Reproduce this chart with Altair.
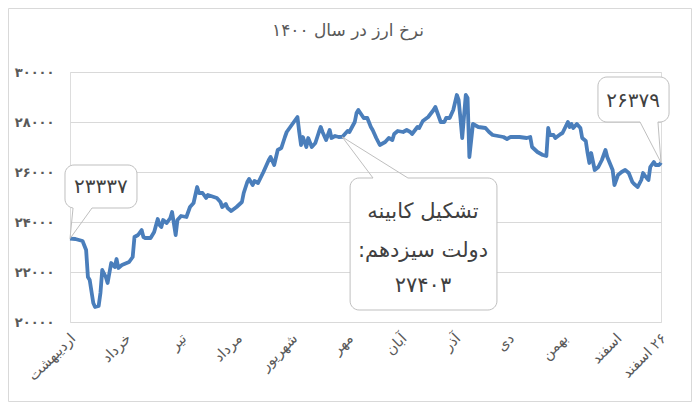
import altair as alt
import pandas as pd

# ---- data: day offset from 1 Ordibehesht 1400, exchange rate (toman) ----
days = [0, 3, 7, 9, 10, 11, 13, 14, 16, 17, 18, 20, 21, 23, 25, 26, 27, 29, 33, 35,
        36, 38, 40, 41, 42, 45, 47, 49, 50, 51, 52, 54, 56, 57, 59, 60, 62, 65, 67, 69,
        71, 72, 74, 76, 77, 82, 84, 85, 87, 88, 90, 93, 96, 97, 99, 100, 102, 103, 105, 108,
        111, 112, 114, 116, 118, 120, 121, 123, 125, 127, 128, 129, 130, 132, 133, 135, 137, 139, 140, 141,
        143, 145, 146, 148, 150, 152, 155, 156, 159, 160, 161, 164, 166, 168, 169, 171, 173, 175, 176, 178,
        180, 181, 183, 186, 188, 190, 191, 194, 195, 197, 200, 203, 204, 205, 207, 209, 210, 212, 214, 216,
        217, 218, 219, 221, 222, 223, 225, 228, 232, 234, 236, 239, 242, 244, 246, 251, 255, 257, 258, 261,
        264, 266, 267, 268, 270, 271, 274, 275, 278, 279, 280, 281, 283, 285, 286, 288, 289, 290, 291, 293,
        295, 297, 299, 300, 303, 304, 306, 308, 310, 312, 314, 315, 317, 319, 320, 322, 323, 324, 326, 327,
        329, 330]
rates = [23337, 23320, 23240, 22880, 21800, 21680, 20760, 20600, 20640, 21160, 22080, 21800, 21560, 22360, 22200, 22520, 22160, 22280, 22400, 22600,
         23400, 23480, 23680, 23400, 23360, 23360, 23600, 24120, 23880, 23800, 24080, 23960, 24160, 24400, 23480, 24080, 24240, 24200, 24600, 24760,
         25400, 25160, 25160, 24960, 25080, 24960, 24800, 24600, 24720, 24560, 24440, 24600, 24800, 25160, 25600, 25720, 25480, 25640, 25560, 26000,
         26480, 26600, 26280, 26880, 26960, 27400, 27600, 27800, 28000, 28200, 27600, 27080, 27400, 27000, 27360, 27000, 27160, 27600, 27800, 27600,
         27280, 27680, 27360, 27440, 27400, 27403, 27640, 27600, 28000, 28360, 28480, 28160, 28160, 27800, 27680, 27360, 27080, 27160, 27200, 27360,
         27280, 27520, 27640, 27600, 27680, 27600, 27520, 27800, 27760, 28040, 28200, 28480, 28600, 28400, 28000, 28000, 28160, 28160, 28480, 29080,
         28880, 28160, 27360, 29080, 28960, 26600, 27920, 27800, 27760, 27600, 27480, 27440, 27400, 27320, 27400, 27400, 27360, 27400, 27000, 26800,
         26680, 26640, 27760, 27480, 27480, 27360, 27520, 27560, 28000, 27800, 27920, 27760, 27920, 27760, 27360, 27240, 26760, 26360, 26760, 26080,
         26200, 26480, 26880, 26600, 26080, 25480, 25880, 26000, 26080, 25960, 25600, 25520, 25400, 25680, 25960, 25760, 25680, 26200, 26400, 26280,
         26280, 26379]

month_days = [0, 31, 62, 93, 124, 155, 185, 215, 245, 275, 305, 330]
month_names = ["اردیبهشت", "خرداد", "تیر", "مرداد", "شهریور", "مهر", "آبان",
               "آذر", "دی", "بهمن", "اسفند", "\u202b۲۶ اسفند\u202c"]
y_ticks = [20000, 22000, 24000, 26000, 28000, 30000]

title_text = "نرخ ارز در سال ۱۴۰۰"

# callouts (in data units)
box_x1 = [-2.8, 294.8, 156.4]
box_x2 = [37.4, 334.5, 238.4]
box_top = [26280, 29800, 25760]
box_bottom = [24560, 28000, 20480]
tip_x = [0, 330, 152]
tip_y = [23337, 26379, 27403]
base_xa = [1.7, 318.3, 169.2]
base_xb = [12.3, 328.3, 188.7]

note_text = ["۲۳۳۳۷", "۲۶۳۷۹", "تشکیل کابینه", "دولت سیزدهم:\u200f", "۲۷۴۰۳"]
note_x = [17.3, 314.4, 197.1, 197.1, 197.1]
note_y = [25400, 28840, 24400, 22840, 21440]
note_size = [20, 20, 21, 21, 21]

# ---- helpers ----
FA = str.maketrans("0123456789", "۰۱۲۳۴۵۶۷۸۹")
def fa(n):
    return str(n).translate(FA)

def lookup_expr(keys, labels):
    return ("[" + ",".join("'" + l + "'" for l in labels) + "][indexof(["
            + ",".join(str(k) for k in keys) + "], datum.value)]")

FONT = "DejaVu Sans"
GRAY = "#595959"
BOX = "#bfbfbf"

df = pd.DataFrame({"day": days, "rate": rates})
x_scale = alt.Scale(domain=[0, 330], nice=False, zero=False)
y_scale = alt.Scale(domain=[20000, 30000], nice=False, zero=False)

x_axis = alt.Axis(values=month_days, labelExpr=lookup_expr(month_days, month_names),
                  labelAngle=315, labelAlign="right", labelBaseline="middle",
                  labelPadding=14, labelOffset=3, grid=False, ticks=False, domain=False,
                  labelFontSize=14.5, labelColor=GRAY, labelFont=FONT,
                  labelOverlap=False, labelFlush=False, title=None)
y_axis = alt.Axis(values=y_ticks, labelExpr=lookup_expr(y_ticks, [fa(v) for v in y_ticks]),
                  grid=True, gridColor="#d9d9d9", gridWidth=1, ticks=False, domain=False,
                  labelPadding=16, labelFontSize=13, labelFontWeight="bold",
                  labelColor=GRAY, labelFont=FONT, title=None)

def X(f):
    return alt.X(f, scale=x_scale, axis=x_axis)
def Y(f):
    return alt.Y(f, scale=y_scale, axis=y_axis)

line = alt.Chart(df).mark_line(color="#4A7EBB", strokeWidth=3.8, strokeJoin="round").encode(
    x=X("day:Q"), y=Y("rate:Q"),
)

boxes_df = pd.DataFrame({"x1": box_x1, "x2": box_x2, "top": box_top, "bottom": box_bottom})
boxes = alt.Chart(boxes_df).mark_rect(fill="white", stroke=BOX, strokeWidth=1, cornerRadius=9).encode(
    x=X("x1:Q"), x2="x2:Q", y=Y("top:Q"), y2="bottom:Q",
)

base_y = [box_bottom[0], box_bottom[1], box_top[2]]
ptr_rows = []
for i in range(3):
    ptr_rows.append({"xa": tip_x[i], "ya": tip_y[i], "xb": base_xa[i], "yb": base_y[i]})
    ptr_rows.append({"xa": tip_x[i], "ya": tip_y[i], "xb": base_xb[i], "yb": base_y[i]})
ptr_df = pd.DataFrame(ptr_rows)
cover_df = pd.DataFrame({"xa": base_xa, "xb": base_xb, "yb": base_y})

cover = alt.Chart(cover_df).mark_rule(color="white", strokeWidth=2.5).encode(
    x=X("xa:Q"), x2="xb:Q", y=Y("yb:Q"), y2="yb:Q",
)
pointers = alt.Chart(ptr_df).mark_rule(color=BOX, strokeWidth=1).encode(
    x=X("xa:Q"), x2="xb:Q", y=Y("ya:Q"), y2="yb:Q",
)

notes_df = pd.DataFrame({"t": note_text, "x": note_x, "y": note_y, "s": note_size})
notes = alt.Chart(notes_df).mark_text(font=FONT, color="#404040", baseline="middle", align="center").encode(
    x=X("x:Q"), y=Y("y:Q"),
    text="t:N",
    size=alt.Size("s:Q", scale=None, legend=None),
)

frame = alt.Chart(pd.DataFrame({"a": [0]})).mark_rect(fillOpacity=0, stroke="#d9d9d9", strokeWidth=1).encode(
    x=alt.value(-61.5), x2=alt.value(621.5), y=alt.value(-63.5), y2=alt.value(329.5)
)

title = alt.Chart(pd.DataFrame({"t": [title_text]})).mark_text(
    font=FONT, fontSize=17, color=GRAY, baseline="middle", align="center"
).encode(x=alt.value(278), y=alt.value(-41), text="t:N")

chart = alt.layer(frame, line, boxes, cover, pointers, notes, title).properties(
    width=591, height=250,
    padding={"left": 62, "top": 64, "right": 31, "bottom": 80},
    autosize=alt.AutoSizeParams(type="none"),
).configure_view(strokeWidth=0).configure(background="white")

chart.save("out.html", embed_options={"renderer": "svg", "actions": False})
